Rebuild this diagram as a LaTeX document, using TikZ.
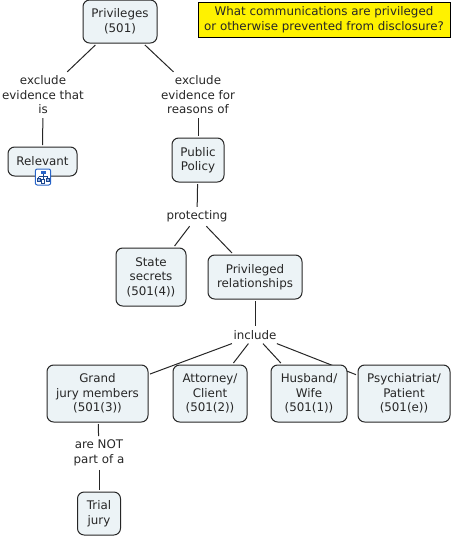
\documentclass[tikz,border=0pt]{standalone}
\usepackage{fontspec}
\setmainfont{DejaVu Sans}
\usetikzlibrary{backgrounds}
\definecolor{conceptfill}{RGB}{236,243,246}
\definecolor{iconblue}{RGB}{40,100,200}
\tikzset{
  every picture/.style={font=\fontsize{8.9}{10.9}\selectfont},
  concept/.style={draw=black!85,fill=conceptfill,rounded corners=5pt,line width=0.75pt,align=center,inner sep=0pt,outer sep=1.5pt,text=black!85},
  linkphrase/.style={align=center,inner sep=1pt,outer sep=2pt,text=black!85},
  note/.style={draw=black,fill=yellow,line width=0.75pt,align=center,inner sep=0pt,text=black!85},
  wire/.style={line width=0.75pt,draw=black!85},
  iconbit/.style={line width=0.4pt,draw=iconblue!70!black},
}

\begin{document}
\begin{tikzpicture}[x=0.75pt,y=-0.75pt]
  \useasboundingbox (0,0) rectangle (452,537);
  % concepts
  \node[concept,minimum width=55.5pt,minimum height=32.25pt] (privileges) at (120,21.5) {Privileges\\(501)};
  \node[concept,minimum width=51.75pt,minimum height=21.75pt] (relevant) at (42.5,161.5) {Relevant};
  \node[concept,minimum width=39pt,minimum height=33pt] (policy) at (198,160) {Public\\Policy};
  \node[concept,minimum width=52.5pt,minimum height=43.5pt] (secrets) at (151,277) {State\\secrets\\(501(4))};
  \node[concept,minimum width=70.5pt,minimum height=33pt] (relationships) at (255,277) {Privileged\\relationships};
  \node[concept,minimum width=75.75pt,minimum height=42.75pt] (grand) at (97.5,393.5) {Grand\\jury members\\(501(3))};
  \node[concept,minimum width=55.5pt,minimum height=42.75pt] (attorney) at (210,393.5) {Attorney/\\Client\\(501(2))};
  \node[concept,minimum width=57pt,minimum height=42.75pt] (husband) at (309,393.5) {Husband/\\Wife\\(501(1))};
  \node[concept,minimum width=69pt,minimum height=42.75pt] (psych) at (404,393.5) {Psychiatriat/\\Patient\\(501(e))};
  \node[concept,minimum width=32.25pt,minimum height=32.25pt] (trial) at (99,513.5) {Trial\\jury};
  % linking phrases
  \node[linkphrase] (excludeis) at (43,95) {exclude\\evidence that\\is};
  \node[linkphrase] (excludefor) at (198,95) {exclude\\evidence for\\reasons of};
  \node[linkphrase] (protecting) at (197,216.5) {protecting};
  \node[linkphrase] (include) at (255,335) {include};
  \node[linkphrase] (arenot) at (99,453) {are NOT\\part of a};
  % question box
  \node[note,minimum width=189pt,minimum height=26.25pt] (question) at (324,19.5) {What communications are privileged\\or otherwise prevented from disclosure?};
  % small map icon on Relevant
  \node[draw=iconblue,fill=white,rounded corners=1.5pt,line width=0.75pt,minimum width=11.5pt,minimum height=12pt,inner sep=0pt] (mapicon) at (43,177) {};
  \fill[iconblue] (40.5,170.5) rectangle (45.5,173.5);
  \draw[iconbit] (43,173.5) -- (43,179) (38.5,176.5) -- (47.5,176.5) (38.5,176.5) -- (38.5,178) (47.5,176.5) -- (47.5,178);
  \draw[iconbit,fill=iconblue!50] (37,178) rectangle (40,181);
  \draw[iconbit,fill=iconblue!50] (46,178) rectangle (49,181);
  \draw[iconbit,fill=white] (41.5,179) rectangle (44.5,183);
  % connectors
  \begin{scope}[on background layer]
    \draw[wire] (privileges) -- (excludeis);
    \draw[wire] (privileges) -- (excludefor);
    \draw[wire] (excludeis) -- (relevant);
    \draw[wire] (excludefor) -- (policy);
    \draw[wire] (policy) -- (protecting);
    \draw[wire] (protecting) -- (secrets);
    \draw[wire] (protecting) -- (relationships);
    \draw[wire] (relationships) -- (include);
    \draw[wire] (include) -- (grand);
    \draw[wire] (include) -- (attorney);
    \draw[wire] (include) -- (husband);
    \draw[wire] (include) -- (psych);
    \draw[wire] (grand) -- (arenot);
    \draw[wire] (arenot) -- (trial);
  \end{scope}
\end{tikzpicture}
\end{document}
